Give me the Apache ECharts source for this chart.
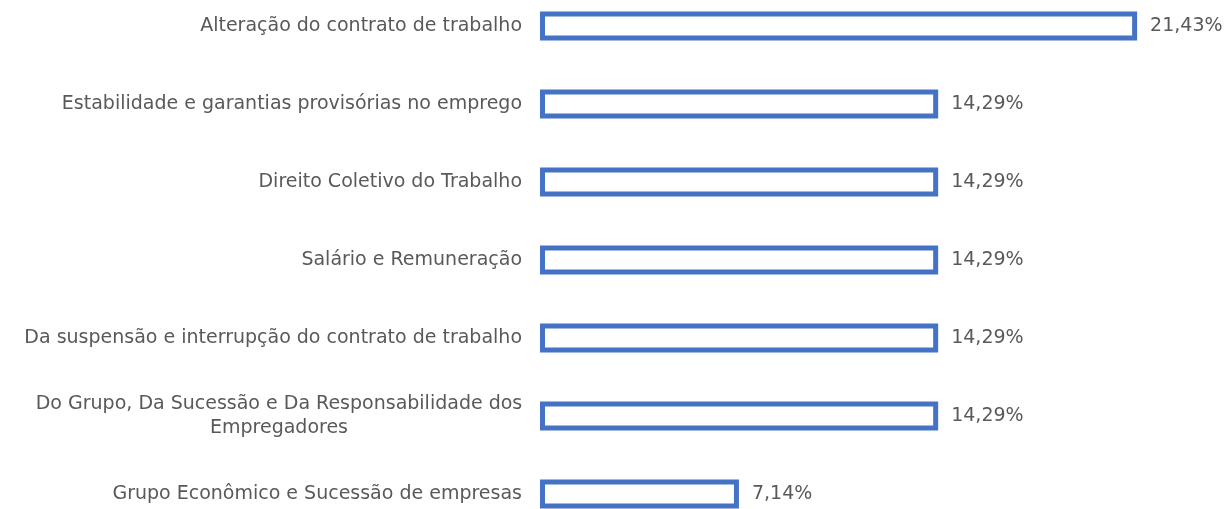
<!DOCTYPE html>
<html>
<head>
<meta charset="utf-8">
<script src="https://cdn.jsdelivr.net/npm/echarts@6/dist/echarts.min.js"></script>
<style>
html,body{margin:0;padding:0;background:#fff;}
#chart{width:1227px;height:509px;}
</style>
</head>
<body>
<div id="chart"></div>
<script>
const categories = [
  'Alteração do contrato de trabalho',
  'Estabilidade e garantias provisórias no emprego',
  'Direito Coletivo do Trabalho',
  'Salário e Remuneração',
  'Da suspensão e interrupção do contrato de trabalho',
  'Do Grupo, Da Sucessão e Da Responsabilidade dos\nEmpregadores',
  'Grupo Econômico e Sucessão de empresas'
];
const values = [21.43, 14.29, 14.29, 14.29, 14.29, 14.29, 7.14];

const FONT = 'DejaVu Sans';
const TXT = '#595959';

const yData = categories.map(function (c) {
  if (c.indexOf('\n') >= 0) {
    return { value: c, textStyle: { align: 'center', padding: [0, 486, 0, 0], lineHeight: 24 } };
  }
  return c;
});

const chart = echarts.init(document.getElementById('chart'), null, { renderer: 'canvas' });
chart.setOption({
  animation: false,
  backgroundColor: '#ffffff',
  grid: { left: 540, top: 26, width: 613, height: 468, containLabel: false },
  xAxis: {
    type: 'value', min: 0, max: 22, show: false,
    splitLine: { show: false }
  },
  yAxis: {
    type: 'category', inverse: true, data: yData, boundaryGap: false,
    axisLine: { show: false }, axisTick: { show: false }, splitLine: { show: false },
    axisLabel: { margin: 18, fontFamily: FONT, fontSize: 19, color: TXT, align: 'right' }
  },
  series: [{
    type: 'bar',
    data: values,
    barWidth: 29,
    itemStyle: { color: '#ffffff', borderColor: '#4472C4', borderWidth: 5 },
    label: {
      show: true, position: 'right', distance: 13,
      fontFamily: FONT, fontSize: 19, color: TXT,
      formatter: function (p) { return p.value.toFixed(2).replace('.', ',') + '%'; }
    }
  }]
});
</script>
</body>
</html>
